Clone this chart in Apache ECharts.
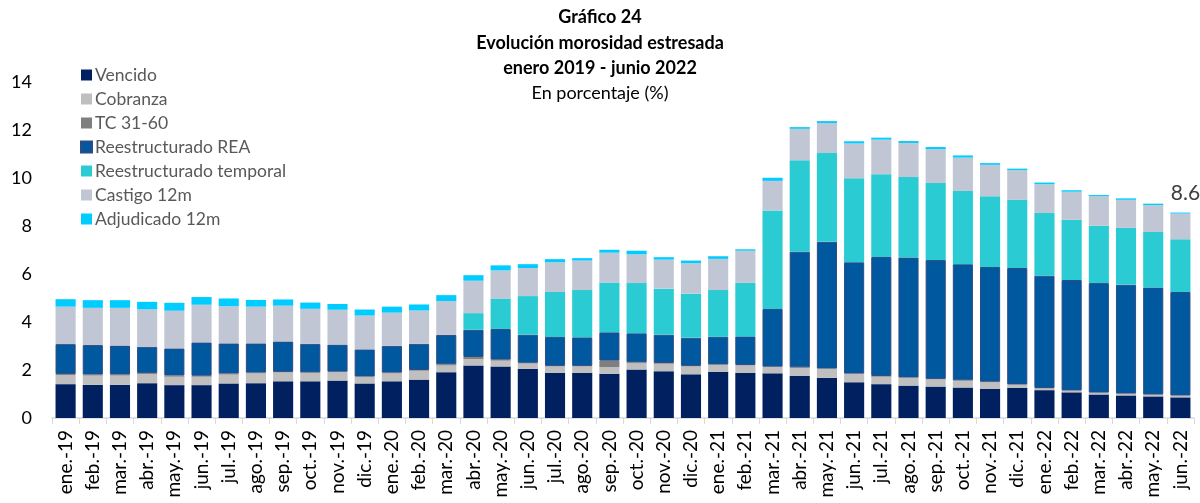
<!DOCTYPE html>
<html>
<head>
<meta charset="utf-8">
<script src="https://cdn.jsdelivr.net/npm/echarts@6/dist/echarts.min.js"></script>
<style>
  html, body { margin: 0; padding: 0; background: #fff; }
  #chart { width: 1200px; height: 503px; }
</style>
</head>
<body>
<div id="chart"></div>
<script>
const months = ['ene.-19','feb.-19','mar.-19','abr.-19','may.-19','jun.-19','jul.-19','ago.-19','sep.-19','oct.-19','nov.-19','dic.-19',
  'ene.-20','feb.-20','mar.-20','abr.-20','may.-20','jun.-20','jul.-20','ago.-20','sep.-20','oct.-20','nov.-20','dic.-20',
  'ene.-21','feb.-21','mar.-21','abr.-21','may.-21','jun.-21','jul.-21','ago.-21','sep.-21','oct.-21','nov.-21','dic.-21',
  'ene.-22','feb.-22','mar.-22','abr.-22','may.-22','jun.-22'];

const vencido = [1.41,1.38,1.38,1.45,1.37,1.37,1.44,1.45,1.53,1.53,1.56,1.44,
  1.53,1.60,1.91,2.19,2.15,2.05,1.89,1.89,1.84,2.02,1.95,1.82,
  1.93,1.89,1.86,1.76,1.67,1.49,1.41,1.35,1.31,1.27,1.22,1.26,
  1.16,1.07,0.98,0.94,0.90,0.86];
const cobranza = [0.38,0.39,0.39,0.38,0.35,0.35,0.37,0.41,0.37,0.34,0.35,0.26,
  0.33,0.37,0.28,0.27,0.24,0.22,0.26,0.26,0.28,0.26,0.31,0.33,
  0.28,0.30,0.26,0.32,0.37,0.34,0.31,0.32,0.30,0.28,0.27,0.12,
  0.07,0.06,0.06,0.06,0.06,0.06];
const tc3160 = [0.04,0.04,0.04,0.04,0.05,0.04,0.04,0.03,0.02,0.03,0.02,0.03,
  0.03,0.03,0.05,0.08,0.04,0.03,0.02,0.02,0.27,0.04,0.03,0.02,
  0.02,0.02,0.02,0.03,0.02,0.02,0.03,0.02,0.02,0.02,0.02,0.02,
  0.02,0.02,0.02,0.02,0.02,0.02];
const reestREA = [1.25,1.23,1.21,1.10,1.13,1.39,1.26,1.22,1.27,1.19,1.13,1.13,
  1.12,1.09,1.22,1.14,1.28,1.17,1.21,1.19,1.18,1.21,1.18,1.17,
  1.16,1.19,2.40,4.82,5.28,4.64,4.96,5.00,4.95,4.84,4.78,4.85,
  4.68,4.60,4.56,4.53,4.46,4.31];
const reestTemporal = [0,0,0,0,0,0,0,0,0,0,0,0,
  0,0,0,0.69,1.27,1.61,1.87,1.97,2.08,2.09,1.92,1.84,
  1.94,2.23,4.11,3.81,3.70,3.50,3.45,3.35,3.21,3.05,2.95,2.84,
  2.61,2.51,2.39,2.37,2.31,2.20];
const castigo = [1.56,1.55,1.57,1.56,1.57,1.57,1.55,1.53,1.49,1.46,1.45,1.41,
  1.38,1.39,1.41,1.35,1.17,1.17,1.24,1.23,1.24,1.20,1.21,1.27,
  1.30,1.34,1.23,1.31,1.25,1.45,1.44,1.42,1.41,1.39,1.31,1.24,
  1.20,1.17,1.23,1.17,1.12,1.07];
const adjudicado = [0.31,0.32,0.32,0.31,0.33,0.32,0.32,0.28,0.26,0.26,0.24,0.25,
  0.25,0.25,0.25,0.23,0.21,0.16,0.13,0.10,0.12,0.15,0.10,0.11,
  0.11,0.06,0.13,0.07,0.08,0.09,0.08,0.08,0.09,0.09,0.07,0.06,
  0.07,0.06,0.05,0.06,0.06,0.04];

const yTicks = [0, 2, 4, 6, 8, 10, 12, 14];

const font = 'Lato, "Open Sans", sans-serif';

// total del ultimo mes (etiqueta 8.6)
const last = months.length - 1;
const lastTotal = [vencido, cobranza, tc3160, reestREA, reestTemporal, castigo, adjudicado]
  .reduce((s, arr) => s + arr[last], 0);

const adjData = adjudicado.map((v, i) => i === last ? {
  value: v,
  label: {
    show: true, position: 'top', distance: 9, offset: [5, 0],
    formatter: () => lastTotal.toFixed(1),
    color: '#404040', fontSize: 21, fontFamily: font
  }
} : v);

function bar(name, data, color, extra) {
  return Object.assign({
    name: name, type: 'bar', stack: 'total', data: data,
    barCategoryGap: '26%',
    itemStyle: { color: color },
    emphasis: { disabled: true }
  }, extra || {});
}

const options = {
  animation: false,
  title: {
    left: 'center',
    top: 0,
    text: '{b|Gráfico 24}\n{b|Evolución morosidad estresada}\n{b|enero 2019 - junio 2022}\n{n|En porcentaje (%)}',
    textStyle: {
      rich: {
        b: { fontFamily: font, fontSize: 18, fontWeight: 'bold', color: '#000', lineHeight: 25.3 },
        n: { fontFamily: font, fontSize: 18, fontWeight: 'normal', color: '#000', lineHeight: 25.3 }
      }
    }
  },
  legend: {
    orient: 'vertical',
    left: 75,
    top: 61,
    itemWidth: 11,
    itemHeight: 11,
    itemGap: 6,
    icon: 'rect',
    textStyle: { fontFamily: font, fontSize: 17.5, color: '#595959', padding: [0, 0, 0, -2] },
    data: ['Vencido','Cobranza','TC 31-60','Reestructurado REA','Reestructurado temporal','Castigo 12m','Adjudicado 12m']
  },
  grid: { left: 52, right: 6, top: 82, bottom: 85 },
  xAxis: {
    type: 'category',
    data: months,
    axisLine: { lineStyle: { color: '#D9D9D9', width: 1.5 } },
    axisTick: { show: true, lineStyle: { color: '#D9D9D9' }, length: 6 },
    axisLabel: { rotate: 90, interval: 0, fontFamily: font, fontSize: 19, color: '#000', margin: 12 }
  },
  yAxis: {
    type: 'value',
    min: yTicks[0],
    max: yTicks[yTicks.length - 1],
    interval: 2,
    splitLine: { show: false },
    axisLine: { show: false },
    axisLabel: { fontFamily: font, fontSize: 18, color: '#000', margin: 20 }
  },
  series: [
    bar('Vencido', vencido, '#002060'),
    bar('Cobranza', cobranza, '#BFBFBF'),
    bar('TC 31-60', tc3160, '#7F7F7F'),
    bar('Reestructurado REA', reestREA, '#00589E', { itemStyle: { color: '#00589E', borderColor: '#2F4B85', borderWidth: 1 } }),
    bar('Reestructurado temporal', reestTemporal, '#2BCBD4'),
    bar('Castigo 12m', castigo, '#C1C6D4'),
    bar('Adjudicado 12m', adjData, '#00CCFF')
  ]
};

const E = echarts.init(document.getElementById('chart'));
window.onresize = function () {
  E.resize();
};
E.setOption(options);
</script>
</body>
</html>
